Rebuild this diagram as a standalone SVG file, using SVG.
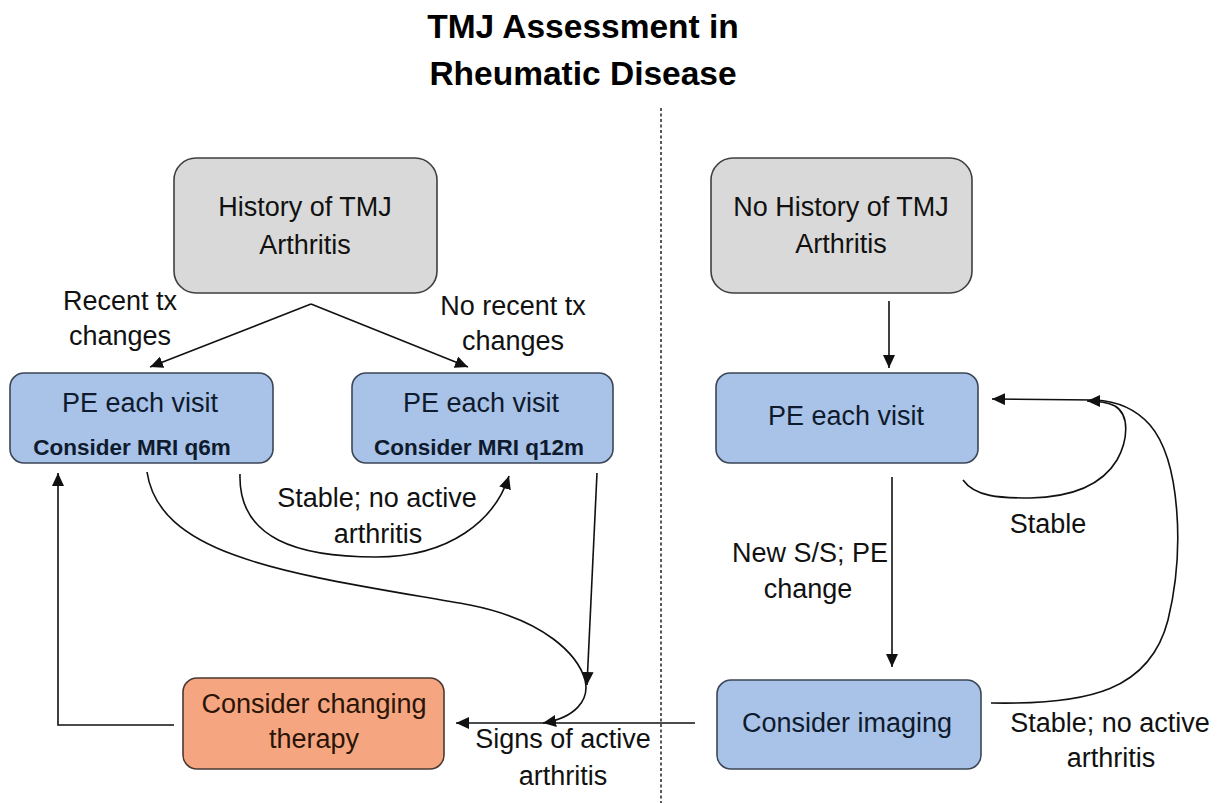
<svg xmlns="http://www.w3.org/2000/svg" width="1218" height="803" viewBox="0 0 1218 803">
<style>
text{font-family:"Liberation Sans",Arial,sans-serif;font-size:27px;fill:#111;text-anchor:middle}
.title{font-size:33.5px;font-weight:bold;fill:#000}
.bold{font-weight:bold;font-size:22.5px}
.grey{fill:#d9d9d9;stroke:#3f3f3f;stroke-width:1.6}
.blue{fill:#a9c2e7;stroke:#3b4656;stroke-width:1.6}
.orange{fill:#f5a680;stroke:#4a3a33;stroke-width:1.6}
.c{fill:none;stroke:#111;stroke-width:1.6}
.navy{fill:#0e1a2d}
.brown{fill:#2b1408}
</style>
<defs>
<marker id="ah" markerUnits="userSpaceOnUse" markerWidth="14" markerHeight="12" refX="13" refY="6" orient="auto">
<path d="M0,0 L13,6 L0,12 z" fill="#111"/>
</marker>
</defs>
<rect width="1218" height="803" fill="#fff"/>
<g id="title">
<text class="title" x="583" y="38">TMJ Assessment in</text>
<text class="title" x="583" y="85">Rheumatic Disease</text>
</g>
<line id="divider" x1="661" y1="108" x2="661" y2="803" stroke="#222" stroke-width="1.5" stroke-dasharray="3 2.5"/>
<g id="connectors">
<path class="c" d="M311,304 L150,367" marker-end="url(#ah)"/>
<path class="c" d="M311,304 L468,367" marker-end="url(#ah)"/>
<path class="c" d="M147,472 C160,560 300,575 470,605 C545,620 578,655 585,680 C590,700 575,718 543,723" marker-end="url(#ah)"/>
<path class="c" d="M597,473 L587,685" marker-end="url(#ah)"/>
<path class="c" d="M240,474 C238,540 300,557 376,557 C450,557 495,520 509,476" marker-end="url(#ah)"/>
<path class="c" d="M174,725 L58,725 L58,473" marker-end="url(#ah)"/>
<path class="c" d="M695,723 L456,723" marker-end="url(#ah)"/>
<path class="c" d="M889,301 L889,368" marker-end="url(#ah)"/>
<path class="c" d="M892,477 L892,667" marker-end="url(#ah)"/>
<path class="c" d="M963,480 C975,497 1000,498 1030,498 C1080,497 1105,480 1117,460 C1128,440 1130,415 1115,406 C1105,401 1095,401 1087,401" marker-end="url(#ah)"/>
<path class="c" d="M991,703 C1090,705 1150,690 1168,620 C1185,550 1180,460 1150,425 C1135,408 1115,401 1095,400 L992,399" marker-end="url(#ah)"/>
</g>
<g id="labels">
<text x="120" y="310">Recent tx</text>
<text x="120" y="345">changes</text>
<text x="513" y="315">No recent tx</text>
<text x="513" y="350">changes</text>
<text x="377" y="507">Stable; no active</text>
<text x="378" y="543">arthritis</text>
<text x="563" y="748">Signs of active</text>
<text x="563" y="785">arthritis</text>
<text x="810" y="562">New S/S; PE</text>
<text x="808" y="598">change</text>
<text x="1048" y="533">Stable</text>
<text x="1110" y="732">Stable; no active</text>
<text x="1111" y="767">arthritis</text>
</g>
<g id="history">
<rect class="grey" x="174" y="158" width="263" height="135" rx="22"/>
<text x="305" y="216">History of TMJ</text>
<text x="305" y="254">Arthritis</text>
</g>
<g id="no-history">
<rect class="grey" x="711" y="158" width="261" height="135" rx="22"/>
<text x="841" y="216">No History of TMJ</text>
<text x="841" y="253">Arthritis</text>
</g>
<g id="pe-q6m">
<rect class="blue" x="10" y="373" width="263" height="90" rx="14"/>
<text class="navy" x="140" y="412">PE each visit</text>
<text class="bold navy" x="132" y="455">Consider MRI q6m</text>
</g>
<g id="pe-q12m">
<rect class="blue" x="352" y="373" width="261" height="90" rx="14"/>
<text class="navy" x="481" y="412">PE each visit</text>
<text class="bold navy" x="479" y="455">Consider MRI q12m</text>
</g>
<g id="pe-right">
<rect class="blue" x="716" y="373" width="262" height="90" rx="14"/>
<text class="navy" x="846" y="425">PE each visit</text>
</g>
<g id="change-therapy">
<rect class="orange" x="183" y="678" width="261" height="91" rx="14"/>
<text class="brown" x="314" y="713">Consider changing</text>
<text class="brown" x="314" y="748">therapy</text>
</g>
<g id="imaging">
<rect class="blue" x="717" y="680" width="264" height="89" rx="14"/>
<text class="navy" x="847" y="732">Consider imaging</text>
</g>
</svg>
